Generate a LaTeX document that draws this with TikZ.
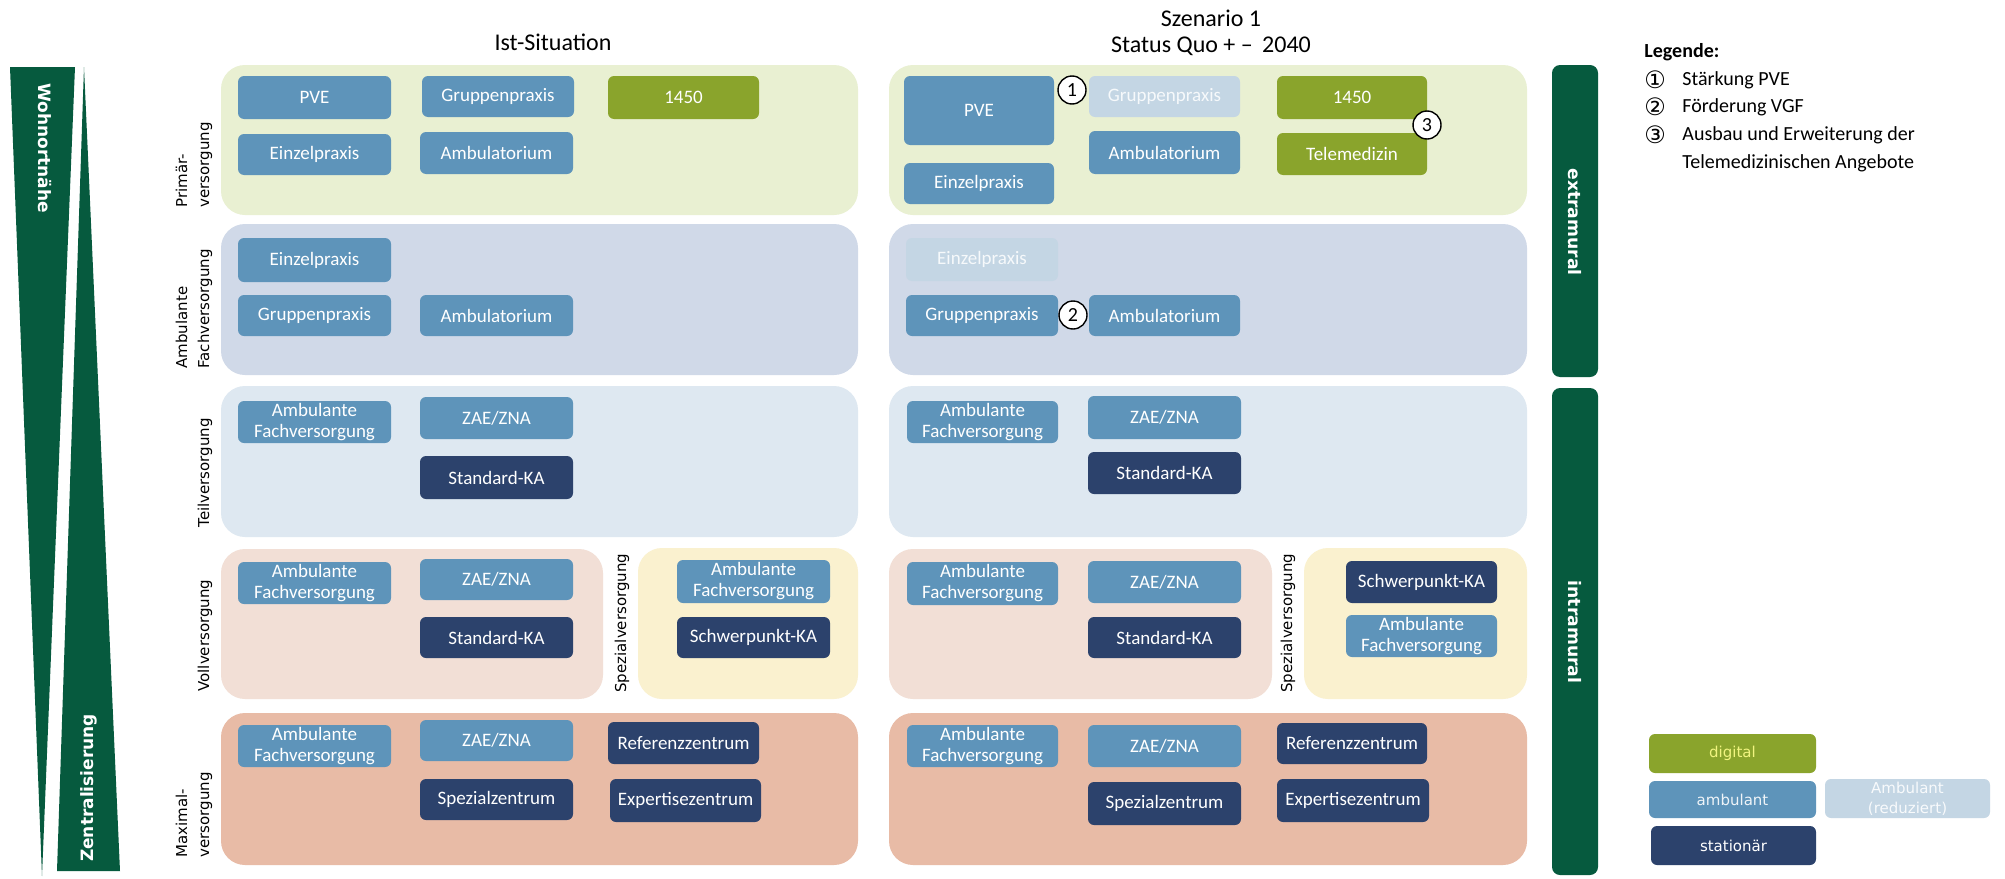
\documentclass[tikz,border=0pt]{standalone}
\usepackage{fontspec}
\setmainfont{Carlito}
\newfontfamily\dejavu{DejaVu Sans}
\definecolor{ambC}{HTML}{5E94BA}
\definecolor{statC}{HTML}{2C426C}
\definecolor{digC}{HTML}{8AA42C}
\definecolor{reduC}{HTML}{C4D6E4}
\definecolor{dkgreen}{HTML}{065A3E}
\definecolor{bgPrim}{HTML}{E9F0D2}
\definecolor{bgAmb}{HTML}{D0D9E8}
\definecolor{bgTeil}{HTML}{DEE8F1}
\definecolor{bgVoll}{HTML}{F2DFD6}
\definecolor{bgSpez}{HTML}{FAF1CF}
\definecolor{bgMax}{HTML}{E8BBA6}
\newcommand\bx[7]{\node[#2, minimum width={(#5-#3)*0.5pt}, minimum height={(#6-#4)*0.5pt}] (#1) at ({(#3+#5)/2},{(#4+#6)/2}) {#7};}
\newcommand\bgr[6]{\node[panel, fill=#2, minimum width={(#5-#3)*0.5pt}, minimum height={(#6-#4)*0.5pt}] (#1) at ({(#3+#5)/2},{(#4+#6)/2}) {};}
\tikzset{
 panel/.style={rectangle, rounded corners=12pt, inner sep=0pt, draw=none},
 box/.style={rectangle, rounded corners=3pt, inner sep=0pt, align=center, text=white, font=\fontsize{9.5pt}{10.5pt}\selectfont},
 amb/.style={box, fill=ambC},
 stat/.style={box, fill=statC},
 dig/.style={box, fill=digC},
 redu/.style={box, fill=reduC, text=white!85!reduC},
 lab/.style={font=\dejavu\fontsize{7.5pt}{11pt}\selectfont, inner sep=0pt, rotate=90, anchor=west, align=left},
 bar/.style={rectangle, rounded corners=4pt, fill=dkgreen, inner sep=0pt},
 bartext/.style={font=\dejavu\bfseries\fontsize{8.6pt}{10pt}\selectfont, text=white, inner sep=0pt},
 head/.style={font=\fontsize{12pt}{13pt}\selectfont, align=center, inner sep=0pt},
 numc/.style={circle, draw=black, fill=white, line width=0.7pt, minimum size=14pt, inner sep=0pt, font=\fontsize{10pt}{10pt}\selectfont},
 legt/.style={font=\fontsize{10pt}{12pt}\selectfont, inner sep=0pt, anchor=west},
 legnum/.style={font=\dejavu\fontsize{12pt}{12pt}\selectfont, inner sep=0pt},
 legbox/.style={rectangle, rounded corners=3pt, inner sep=0pt, align=center, font=\dejavu\fontsize{7.5pt}{10pt}\selectfont},
}
\begin{document}
\begin{tikzpicture}[x=0.5pt,y=-0.5pt]
\useasboundingbox (0,0) rectangle (2005,878);
\fill[white] (0,0) rectangle (2005,878);
% wedges
\fill[dkgreen] (10,67) -- (75,67) -- (42,876) -- cycle;
\fill[dkgreen] (84,67) -- (120,871) -- (57,871) -- cycle;
\node[bartext, rotate=-90, font=\dejavu\bfseries\fontsize{8.5pt}{10pt}\selectfont] (wohn) at (45,148) {Wohnortnähe};
\node[bartext, rotate=90, font=\dejavu\bfseries\fontsize{8.5pt}{10pt}\selectfont] (zent) at (89,788) {Zentralisierung};
% headers
\node[head] (ist) at (553,42) {Ist-Situation};
\node[head] (sz) at (1211,33) {Szenario 1\\Status Quo + –\,\ 2040};
% row labels
\node[lab] (lprim) at (194,208) {Primär-\\versorgung};
\node[lab] (lamb) at (194,369) {Ambulante\\Fachversorgung};
\node[lab] (lteil) at (205,528) {Teilversorgung};
\node[lab] (lvoll) at (205,692) {Vollversorgung};
\node[lab] (lmax) at (194,858) {Maximal-\\versorgung};
\node[lab] (lspez1) at (622,693) {Spezialversorgung};
\node[lab] (lspez2) at (1288,693) {Spezialversorgung};
% background panels left
\bgr{p1l}{bgPrim}{221}{65}{858}{215}
\bgr{p2l}{bgAmb}{221}{224}{858}{375}
\bgr{p3l}{bgTeil}{221}{386}{858}{537}
\bgr{p4l}{bgVoll}{221}{549}{603}{699}
\bgr{p4sl}{bgSpez}{638}{548}{858}{699}
\bgr{p5l}{bgMax}{221}{713}{858}{865}
% background panels right
\bgr{p1r}{bgPrim}{889}{65}{1527}{215}
\bgr{p2r}{bgAmb}{889}{224}{1527}{375}
\bgr{p3r}{bgTeil}{889}{386}{1527}{537}
\bgr{p4r}{bgVoll}{889}{549}{1272}{699}
\bgr{p4sr}{bgSpez}{1304}{548}{1527}{699}
\bgr{p5r}{bgMax}{889}{713}{1527}{865}
% left boxes
\bx{a1}{amb}{238}{76}{391}{119}{PVE}
\bx{a2}{amb}{422}{76}{574}{117}{Gruppenpraxis}
\bx{a3}{dig}{608}{76}{759}{119}{1450}
\bx{a4}{amb}{238}{134}{391}{175}{Einzelpraxis}
\bx{a5}{amb}{420}{132}{573}{174}{Ambulatorium}
\bx{b1}{amb}{238}{238}{391}{282}{Einzelpraxis}
\bx{b2}{amb}{238}{295}{391}{336}{Gruppenpraxis}
\bx{b3}{amb}{420}{295}{573}{336}{Ambulatorium}
\bx{c1}{amb}{238}{401}{391}{443}{Ambulante\\Fachversorgung}
\bx{c2}{amb}{420}{397}{573}{439}{ZAE/ZNA}
\bx{c3}{stat}{420}{456}{573}{499}{Standard-KA}
\bx{d1}{amb}{238}{562}{391}{604}{Ambulante\\Fachversorgung}
\bx{d2}{amb}{420}{559}{573}{600}{ZAE/ZNA}
\bx{d3}{stat}{420}{617}{573}{658}{Standard-KA}
\bx{d4}{amb}{677}{560}{830}{603}{Ambulante\\Fachversorgung}
\bx{d5}{stat}{677}{617}{830}{658}{Schwerpunkt-KA}
\bx{e1}{amb}{238}{725}{391}{767}{Ambulante\\Fachversorgung}
\bx{e2}{amb}{420}{720}{573}{761}{ZAE/ZNA}
\bx{e3}{stat}{420}{779}{573}{820}{Spezialzentrum}
\bx{e4}{stat}{608}{722}{759}{764}{Referenzzentrum}
\bx{e5}{stat}{610}{779}{761}{822}{Expertisezentrum}
% right boxes
\bx{ra1}{amb}{904}{76}{1054}{145}{PVE}
\bx{ra2}{redu}{1089}{76}{1240}{117}{Gruppenpraxis}
\bx{ra3}{dig}{1277}{76}{1427}{119}{1450}
\bx{ra4}{amb}{904}{163}{1054}{204}{Einzelpraxis}
\bx{ra5}{amb}{1089}{131}{1240}{174}{Ambulatorium}
\bx{ra6}{dig}{1277}{133}{1427}{175}{Telemedizin}
\bx{rb1}{redu}{906}{238}{1058}{281}{Einzelpraxis}
\bx{rb2}{amb}{906}{295}{1058}{336}{Gruppenpraxis}
\bx{rb3}{amb}{1089}{295}{1240}{336}{Ambulatorium}
\bx{rc1}{amb}{907}{401}{1058}{443}{Ambulante\\Fachversorgung}
\bx{rc2}{amb}{1088}{396}{1241}{439}{ZAE/ZNA}
\bx{rc3}{stat}{1088}{452}{1241}{494}{Standard-KA}
\bx{rd1}{amb}{907}{562}{1058}{605}{Ambulante\\Fachversorgung}
\bx{rd2}{amb}{1088}{561}{1241}{603}{ZAE/ZNA}
\bx{rd3}{stat}{1088}{617}{1241}{658}{Standard-KA}
\bx{rd4}{stat}{1346}{561}{1497}{603}{Schwerpunkt-KA}
\bx{rd5}{amb}{1346}{615}{1497}{657}{Ambulante\\Fachversorgung}
\bx{re1}{amb}{907}{725}{1058}{767}{Ambulante\\Fachversorgung}
\bx{re2}{amb}{1088}{725}{1241}{767}{ZAE/ZNA}
\bx{re3}{stat}{1088}{782}{1241}{825}{Spezialzentrum}
\bx{re4}{stat}{1277}{723}{1427}{764}{Referenzzentrum}
\bx{re5}{stat}{1277}{779}{1429}{822}{Expertisezentrum}
% numbered circles
\node[numc] (n1) at (1072,90) {1};
\node[numc] (n2) at (1073,315) {2};
\node[numc] (n3) at (1427,125) {3};
% bars
\bx{extra}{bar}{1552}{65}{1598}{377}{}
\bx{intra}{bar}{1552}{388}{1598}{875}{}
\node[bartext, rotate=-90] (extt) at (1575,222) {extramural};
\node[bartext, rotate=-90] (intt) at (1575,632) {intramural};
% legend
\node[legt, font=\bfseries\fontsize{10pt}{12pt}\selectfont] (leg) at (1644,52) {Legende:};
\node[legnum] (ln1) at (1655,80) {①};
\node[legnum] (ln2) at (1655,107) {②};
\node[legnum] (ln3) at (1655,135) {③};
\node[legt] (lt1) at (1682,80) {Stärkung PVE};
\node[legt] (lt2) at (1682,107) {Förderung VGF};
\node[legt] (lt3) at (1682,135) {Ausbau und Erweiterung der};
\node[legt] (lt4) at (1682,163) {Telemedizinischen Angebote};
\bx{ldig}{legbox, fill=digC, text=white!80!digC!60!yellow}{1649}{734}{1816}{773}{digital}
\bx{lamb}{legbox, fill=ambC, text=white!90!ambC}{1649}{781}{1816}{818}{ambulant}
\bx{lstat}{legbox, fill=statC, text=white}{1651}{826}{1816}{865}{stationär}
\bx{lred}{legbox, fill=reduC, text=white!88!reduC}{1825}{779}{1990}{818}{Ambulant\\(reduziert)}
\end{tikzpicture}
\end{document}
